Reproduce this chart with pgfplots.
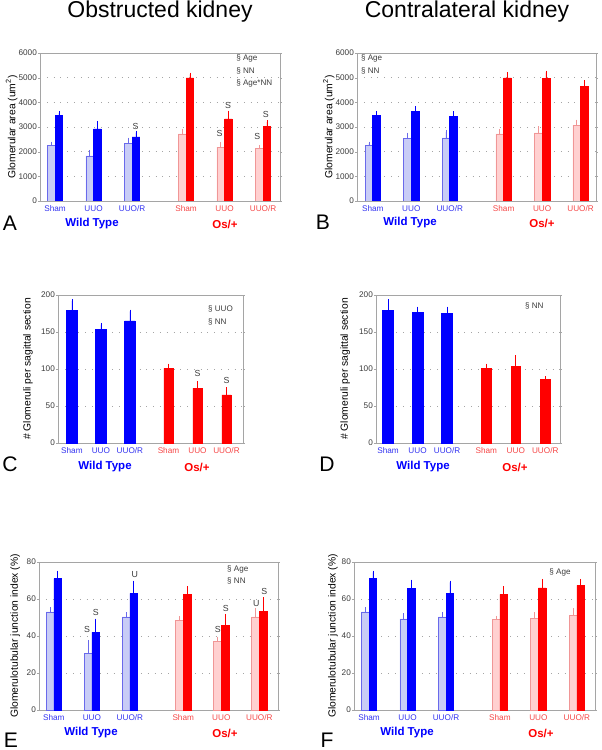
\documentclass[border=0pt]{standalone}
\usepackage{fontspec}
\setmainfont{Liberation Sans}
\usepackage{pgfplots}
\pgfplotsset{compat=1.18}

\definecolor{wtblue}{RGB}{0,0,255}
\definecolor{wtlight}{RGB}{200,204,246}
\definecolor{wtedge}{RGB}{105,105,235}
\definecolor{osred}{RGB}{255,0,0}
\definecolor{oslight}{RGB}{255,208,208}
\definecolor{osedge}{RGB}{240,150,150}
\definecolor{frame}{RGB}{165,165,165}
\definecolor{txt}{RGB}{60,60,60}
\definecolor{wtlab}{RGB}{50,50,240}
\definecolor{oslab}{RGB}{245,70,70}

\newcommand\wl[1]{\textcolor{wtlab}{#1}}
\newcommand\ol[1]{\textcolor{oslab}{#1}}

\pgfplotsset{
  panel/.style={
    scale only axis, anchor=south west, ybar, ymin=0,
    axis line style={frame}, tick style={frame},
    xtick style={draw=none}, tick align=outside, major tick length=1.5pt,
    ymajorgrids, grid style={frame, line width=0.6pt, dash pattern=on 0.8pt off 5pt},
    ticklabel style={font=\fontsize{7}{8}\selectfont, text=txt},
    yticklabel style={inner sep=1pt},
    xticklabel style={inner sep=2pt},
    /pgf/number format/assume math mode=true, /pgf/number format/1000 sep={},
    xticklabels={\wl{Sham},\wl{UUO},\wl{UUO/R},\ol{Sham},\ol{UUO},\ol{UUO/R}},
    ylabel style={font=\fontsize{8.8}{9}\selectfont, text=black, anchor=center},
  },
  lb/.style={fill=wtlight, draw=wtedge, line width=0.5pt, bar width=0.2, bar shift=-0.1,
    error bars/y dir=plus, error bars/y explicit,
    error bars/error bar style={wtedge, line width=0.6pt},
    error bars/error mark options={wtedge, line width=0.6pt, mark size=1.5pt}},
  db/.style={fill=wtblue, draw=wtblue, line width=0.5pt, bar width=0.2, bar shift=0.1,
    error bars/y dir=plus, error bars/y explicit,
    error bars/error bar style={wtblue, line width=0.6pt},
    error bars/error mark options={wtblue, line width=0.6pt, mark size=1.5pt}},
  lr/.style={fill=oslight, draw=osedge, line width=0.5pt, bar width=0.2, bar shift=-0.1,
    error bars/y dir=plus, error bars/y explicit,
    error bars/error bar style={osedge, line width=0.6pt},
    error bars/error mark options={osedge, line width=0.6pt, mark size=1.5pt}},
  dr/.style={fill=osred, draw=osred, line width=0.5pt, bar width=0.2, bar shift=0.1,
    error bars/y dir=plus, error bars/y explicit,
    error bars/error bar style={osred, line width=0.6pt},
    error bars/error mark options={osred, line width=0.6pt, mark size=1.5pt}},
}

\tikzset{
  ann/.style={font=\fontsize{6.9}{8}\selectfont, text=txt, anchor=west, inner sep=0pt},
  sig/.style={font=\fontsize{7.5}{8}\selectfont, text=txt, inner sep=0pt},
  letter/.style={font=\fontsize{18}{18}\selectfont},
  wt/.style={font=\fontsize{9.8}{10}\selectfont\bfseries, text=wtblue},
  os/.style={font=\fontsize{9.8}{10}\selectfont\bfseries, text=osred},
}

\begin{document}
\begin{tikzpicture}
\useasboundingbox (0,0) rectangle (18.03,-22.5);

\node[font=\fontsize{19.6}{20}\selectfont] at (4.8,-0.36) {Obstructed kidney};
\node[font=\fontsize{19.6}{20}\selectfont] at (14.01,-0.36) {Contralateral kidney};

% ---------- A
\begin{axis}[panel, at={(1.2cm,-6.03cm)}, width=7.2cm, height=4.44cm,
  xmin=-0.39, xmax=5.84, ymax=6000, ytick={0,1000,...,6000},
  xtick={0,1,2,3.4,4.4,5.4},
  ylabel={Glomerular area (um\textsuperscript{2})},
  ylabel style={at={(axis description cs:-0.118,0.5)}}]
\addplot[lb] coordinates {(0,2250) +- (0,90) (1,1830) +- (0,170) (2,2350) +- (0,150)};
\addplot[db] coordinates {(0,3460) +- (0,110) (1,2920) +- (0,260) (2,2600) +- (0,170)};
\addplot[lr] coordinates {(3.4,2720) +- (0,120) (4.4,2180) +- (0,140) (5.4,2120) +- (0,80)};
\addplot[dr] coordinates {(3.4,4990) +- (0,140) (4.4,3330) +- (0,260) (5.4,3010) +- (0,200)};
\node[ann] at (axis cs:4.70,5800) {§ Age};
\node[ann] at (axis cs:4.70,5270) {§ NN};
\node[ann] at (axis cs:4.70,4784) {§ Age*NN};
\node[sig] at (axis cs:2.09,3040) {S};
\node[sig] at (axis cs:4.27,2743) {S};
\node[sig] at (axis cs:4.49,3892) {S};
\node[sig] at (axis cs:5.25,2608) {S};
\node[sig] at (axis cs:5.47,3527) {S};
\end{axis}
\node[letter] at (0.3,-6.69) {A};
\node[wt] at (2.76,-6.72) {Wild Type};
\node[os] at (6.75,-6.72) {Os/+};

% ---------- B
\begin{axis}[panel, at={(10.71cm,-6.03cm)}, width=7.17cm, height=4.44cm,
  xmin=-0.41, xmax=5.8, ymax=6000, ytick={0,1000,...,6000},
  xtick={0,1,2,3.4,4.4,5.4},
  ylabel={Glomerular area (um\textsuperscript{2})},
  ylabel style={at={(axis description cs:-0.118,0.5)}}]
\addplot[lb] coordinates {(0,2250) +- (0,90) (1,2550) +- (0,150) (2,2560) +- (0,230)};
\addplot[db] coordinates {(0,3460) +- (0,120) (1,3630) +- (0,150) (2,3420) +- (0,150)};
\addplot[lr] coordinates {(3.4,2720) +- (0,120) (4.4,2760) +- (0,190) (5.4,3080) +- (0,150)};
\addplot[dr] coordinates {(3.4,4990) +- (0,150) (4.4,4960) +- (0,250) (5.4,4640) +- (0,180)};
\node[ann] at (axis cs:-0.31,5800) {§ Age};
\node[ann] at (axis cs:-0.31,5270) {§ NN};
\end{axis}
\node[letter] at (9.69,-6.66) {B};
\node[wt] at (12.3,-6.69) {Wild Type};
\node[os] at (16.26,-6.69) {Os/+};

% ---------- C
\begin{axis}[panel, at={(1.74cm,-13.29cm)}, width=5.55cm, height=4.44cm,
  xmin=-0.48, xmax=5.9, ymax=200, ytick={0,50,...,200},
  xtick={0,1,2,3.33,4.33,5.33},
  ylabel={\# Glomeruli per sagittal section},
  ylabel style={at={(axis description cs:-0.162,0.5)}}]
\addplot[db, bar width=0.36, bar shift=0] coordinates {(0,179) +- (0,13) (1,153) +- (0,7) (2,165) +- (0,13)};
\addplot[dr, bar width=0.32, bar shift=0] coordinates {(3.33,101) +- (0,4) (4.33,74) +- (0,7) (5.33,65) +- (0,8)};
\node[ann] at (axis cs:4.69,181) {§ UUO};
\node[ann] at (axis cs:4.69,163.5) {§ NN};
\node[sig] at (axis cs:4.33,94.2) {S};
\node[sig] at (axis cs:5.33,85.1) {S};
\end{axis}
\node[letter] at (0.3,-13.92) {C};
\node[wt] at (3.15,-14.01) {Wild Type};
\node[os] at (5.91,-14.01) {Os/+};

% ---------- D
\begin{axis}[panel, at={(11.28cm,-13.29cm)}, width=5.52cm, height=4.44cm,
  xmin=-0.41, xmax=5.83, ymax=200, ytick={0,50,...,200},
  xtick={0,1,2,3.33,4.33,5.33},
  ylabel={\# Glomeruli per sagittal section},
  ylabel style={at={(axis description cs:-0.168,0.5)}}]
\addplot[db, bar width=0.36, bar shift=0] coordinates {(0,179) +- (0,13) (1,177) +- (0,5) (2,175) +- (0,7)};
\addplot[dr, bar width=0.32, bar shift=0] coordinates {(3.33,101) +- (0,4) (4.33,103) +- (0,13) (5.33,86) +- (0,2)};
\node[ann] at (axis cs:4.64,185) {§ NN};
\end{axis}
\node[letter] at (9.81,-13.92) {D};
\node[wt] at (12.69,-14.01) {Wild Type};
\node[os] at (15.45,-14.01) {Os/+};

% ---------- E
\begin{axis}[panel, at={(1.17cm,-21.3cm)}, width=7.17cm, height=4.44cm,
  xmin=-0.39, xmax=5.89, ymax=80, ytick={0,20,...,80},
  xtick={0,1,2,3.4,4.4,5.4},
  ylabel={Glomerulotubular junction index (\%)},
  ylabel style={at={(axis description cs:-0.100,0.5)}}]
\addplot[lb] coordinates {(0,53) +- (0,1.6) (1,30.5) +- (0,6.4) (2,50.3) +- (0,1.7)};
\addplot[db] coordinates {(0,71) +- (0,3.4) (1,42) +- (0,6.5) (2,63) +- (0,6)};
\addplot[lr] coordinates {(3.4,48.5) +- (0,1.1) (4.4,37) +- (0,1.5) (5.4,50.3) +- (0,4)};
\addplot[dr] coordinates {(3.4,62.5) +- (0,3.5) (4.4,45.8) +- (0,5.2) (5.4,53.4) +- (0,6.6)};
\node[ann] at (axis cs:4.55,76.2) {§ Age};
\node[ann] at (axis cs:4.55,69.7) {§ NN};
\node[sig] at (axis cs:0.87,43.8) {S};
\node[sig] at (axis cs:1.10,52.6) {S};
\node[sig] at (axis cs:2.13,73) {U};
\node[sig] at (axis cs:4.31,43.8) {S};
\node[sig] at (axis cs:4.52,55.1) {S};
\node[sig] at (axis cs:5.32,57.3) {U};
\node[sig] at (axis cs:5.53,64) {S};
\end{axis}
\node[letter] at (0.33,-22.2) {E};
\node[wt] at (2.73,-21.99) {Wild Type};
\node[os] at (6.75,-21.99) {Os/+};

% ---------- F
\begin{axis}[panel, at={(10.62cm,-21.3cm)}, width=7.23cm, height=4.44cm,
  xmin=-0.39, xmax=5.87, ymax=80, ytick={0,20,...,80},
  xtick={0,1,2,3.4,4.4,5.4},
  ylabel={Glomerulotubular junction index (\%)},
  ylabel style={at={(axis description cs:-0.087,0.5)}}]
\addplot[lb] coordinates {(0,53) +- (0,1.6) (1,49.3) +- (0,2.1) (2,50.3) +- (0,1.7)};
\addplot[db] coordinates {(0,71) +- (0,3.4) (1,65.6) +- (0,4) (2,63) +- (0,6)};
\addplot[lr] coordinates {(3.4,48.9) +- (0,1.1) (4.4,49.4) +- (0,2.6) (5.4,51.2) +- (0,2.8)};
\addplot[dr] coordinates {(3.4,62.5) +- (0,3.5) (4.4,66) +- (0,4) (5.4,67.4) +- (0,2.6)};
\node[ann] at (axis cs:4.68,74.6) {§ Age};
\end{axis}
\node[letter] at (9.81,-22.2) {F};
\node[wt] at (12.21,-21.99) {Wild Type};
\node[os] at (16.23,-21.99) {Os/+};
\end{tikzpicture}
\end{document}
